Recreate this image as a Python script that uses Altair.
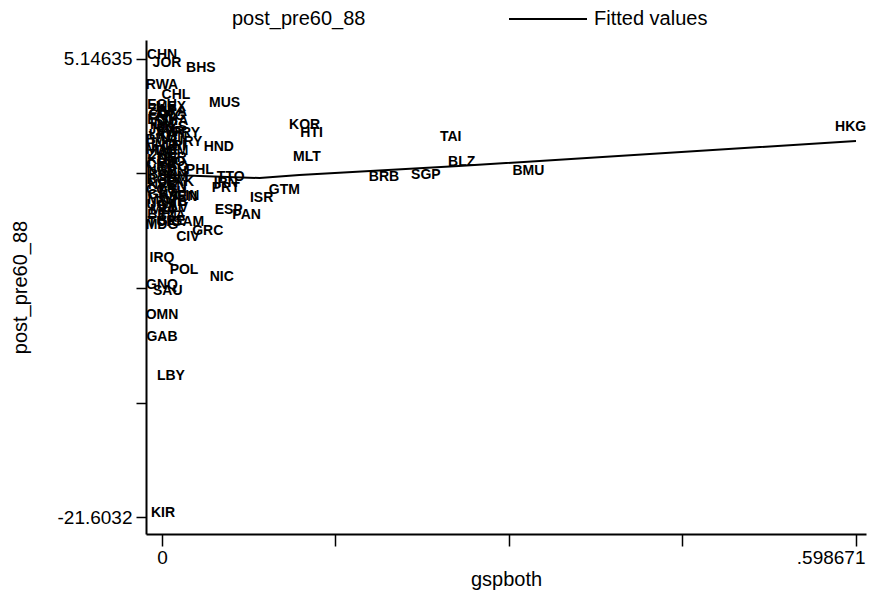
import altair as alt
import pandas as pd

# Country labels (marker labels), x = gspboth, y = post_pre60_88
codes = ["CHN", "JOR", "BHS", "RWA", "CHL", "MUS", "KOR", "HTI", "MLT", "TAI",
         "BLZ", "BRB", "SGP", "BMU", "HKG", "HND", "PHL", "TTO", "IRN", "PRT",
         "GTM", "ISR", "ESP", "PAN", "GRC", "CIV", "IRQ", "POL", "NIC", "GNQ",
         "SAU", "OMN", "GAB", "LBY", "KIR",
         "ECU", "MEX", "ZAF", "BRA", "COL", "ARG", "EGY", "THA", "IDN", "MYS",
         "JPN", "SYR", "PRY", "LKA", "TUN", "BWA", "URY", "IND", "CRI", "MAR",
         "DOM", "ZWE", "NER", "KEN", "LSO", "CMR", "TGO", "NGA", "SDN", "BOL",
         "JAM", "BGD", "PAK", "NPL", "VEN", "COG", "ETH", "GHA", "SEN", "GIN",
         "MWI", "ZMB", "UGA", "CAF", "SLV", "MLI", "BEN", "TZA", "TUR", "SLE",
         "GAM", "MDG"]
gspboth = [0.0000, 0.0043, 0.0335, 0.0000, 0.0120, 0.0540, 0.1230, 0.1290, 0.1250, 0.2490,
           0.2585, 0.1915, 0.2276, 0.3160, 0.5940, 0.0490, 0.0326, 0.0593, 0.0550, 0.0550,
           0.1056, 0.0859, 0.0575, 0.0730, 0.0395, 0.0223, 0.0000, 0.0190, 0.0515, 0.0000,
           0.0050, 0.0000, 0.0000, 0.0077, 0.0009,
           0.0000, 0.0077, 0.0000, 0.0086, 0.0009, 0.0069, 0.0000, 0.0103, 0.0000, 0.0086,
           0.0000, 0.0069, 0.0206, 0.0009, 0.0094, 0.0000, 0.0223, 0.0009, 0.0103, 0.0000,
           0.0086, 0.0009, 0.0086, 0.0000, 0.0077, 0.0000, 0.0094, 0.0000, 0.0086, 0.0009,
           0.0103, 0.0000, 0.0155, 0.0000, 0.0086, 0.0000, 0.0094, 0.0009, 0.0180, 0.0215,
           0.0000, 0.0086, 0.0000, 0.0086, 0.0112, 0.0000, 0.0000, 0.0086, 0.0000, 0.0086,
           0.0223, 0.0000]
post = [5.38, 4.91, 4.62, 3.63, 3.04, 2.58, 1.29, 0.82, -0.58, 0.59,
        -0.87, -1.75, -1.63, -1.40, 1.175, 0.01, -1.34, -1.75, -2.10, -2.40,
        -2.50, -2.97, -3.67, -3.97, -4.90, -5.25, -6.48, -7.18, -7.59, -8.05,
        -8.40, -9.81, -11.09, -13.37, -21.37,
        2.46, 2.34, 2.17, 2.05, 1.875, 1.80, 1.584, 1.50, 1.292, 1.20,
        1.00, 0.90, 0.82, 0.707, 0.60, 0.416, 0.30, 0.123, 0.05, -0.168,
        -0.25, -0.460, -0.63, -0.752, -0.85, -1.044, -1.15, -1.337, -1.45, -1.629,
        -1.72, -1.921, -2.04, -2.213, -2.30, -2.505, -2.60, -2.797, -2.90, -2.85,
        -3.089, -3.20, -3.381, -3.45, -3.55, -3.673, -3.965, -4.05, -4.37, -4.30,
        -4.37, -4.549]

# Fitted values line
fit_x = [0.0, 0.0326, 0.0842, 0.1185, 0.256, 0.598671]
fit_y = [-1.60, -1.687, -1.804, -1.629, -1.103, 0.357]

x_ticks = [0.0, 0.149668, 0.299336, 0.449003, 0.598671]
y_ticks = [5.14635, -1.54104, -8.22843, -14.9158, -21.6032]

pts = pd.DataFrame({"code": codes, "gspboth": gspboth, "post": post})
fit = pd.DataFrame({"gspboth": fit_x, "post": fit_y, "series": ["Fitted values"] * len(fit_x)})

FONT = "Liberation Sans"

xscale = alt.Scale(domain=[-0.0138, 0.6073], nice=False, zero=False)
yscale = alt.Scale(domain=[-22.596, 6.256], nice=False, zero=False)

xaxis = alt.Axis(values=x_ticks,
                 labelExpr="datum.value == 0 ? '0' : (datum.value > 0.59 ? '.598671' : '')",
                 title="gspboth", grid=False, tickSize=12, tickWidth=1.5, tickColor="black",
                 domainColor="black", domainWidth=2, labelFont=FONT, labelFontSize=19,
                 labelColor="black", titleFont=FONT, titleFontSize=20, titleFontWeight="normal",
                 titleColor="black", labelPadding=2, titlePadding=2, labelFlush=13,
                 labelFlushOffset=9, labelOverlap=False)
yaxis = alt.Axis(values=y_ticks,
                 labelExpr="datum.value > 5 ? '5.14635' : (datum.value < -21 ? '-21.6032' : '')",
                 title="post_pre60_88", grid=False, tickSize=10, tickWidth=1.5, tickColor="black",
                 domainColor="black", domainWidth=2, labelFont=FONT, labelFontSize=19,
                 labelColor="black", titleFont=FONT, titleFontSize=20, titleFontWeight="normal",
                 titleColor="black", labelPadding=4, titlePadding=26, labelFlush=False,
                 labelOverlap=False)

text = alt.Chart(pts).mark_text(font=FONT, fontWeight="bold", fontSize=14,
                                align="center", baseline="middle", color="black").encode(
    x=alt.X("gspboth:Q", scale=xscale, axis=xaxis),
    y=alt.Y("post:Q", scale=yscale, axis=yaxis),
    text="code:N",
)

line = alt.Chart(fit).mark_line(strokeWidth=2).encode(
    x=alt.X("gspboth:Q", scale=xscale),
    y=alt.Y("post:Q", scale=yscale),
    color=alt.Color("series:N",
                    scale=alt.Scale(domain=["post_pre60_88", "Fitted values"],
                                    range=["white", "black"]),
                    legend=alt.Legend(title=None, orient="none", legendX=0, legendY=-31,
                                      direction="horizontal", symbolType="stroke",
                                      symbolSize=6084, symbolStrokeWidth=2,
                                      labelFont=FONT, labelFontSize=20, labelColor="black",
                                      columnPadding=142, labelOffset=6, clipHeight=20,
                                      padding=0)),
)

chart = alt.layer(text, line).properties(
    width=720, height=494,
    autosize=alt.AutoSizeParams(type="none"),
    padding={"left": 138, "top": 32, "right": 1, "bottom": 58},
    background="white",
).configure_view(stroke=None)

chart.save("out.html", embed_options={"renderer": "svg", "actions": False})
